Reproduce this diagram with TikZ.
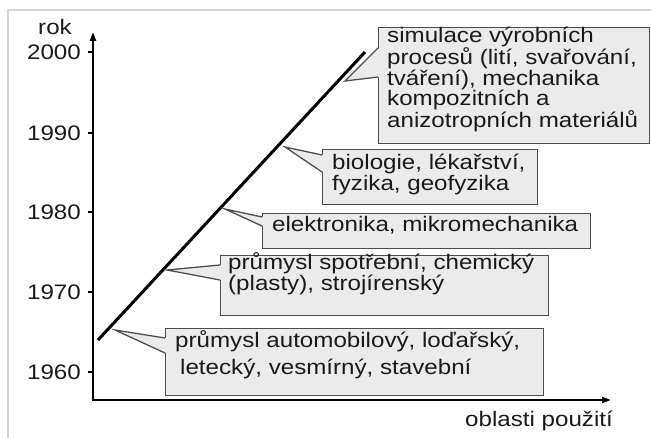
\documentclass[tikz,border=0pt]{standalone}
\usepackage{fontspec}
\setmainfont{Liberation Sans}[FakeStretch=1.15]
\usetikzlibrary{arrows.meta,calc}
\definecolor{boxgray}{HTML}{EBEBEB}
\definecolor{edgegray}{HTML}{4D4D4D}
\definecolor{framegray}{HTML}{D4D4D4}
\definecolor{ink}{HTML}{1A1A1A}

\begin{document}
\begin{tikzpicture}[x=1pt,y=-1pt,
  axis/.style={line width=2.6pt, black, -{Triangle[length=9pt,width=6pt]}},
  tick/.style={line width=1.6pt, black},
  lbl/.style={font=\fontsize{21}{21}\selectfont, text=ink, inner sep=0pt},
  box/.style={draw=edgegray, fill=boxgray, line width=1.3pt, inner sep=0pt, anchor=north west},
  txt/.style={lbl, align=left, anchor=base west},
  wedgeline/.style={draw=edgegray, line width=1.3pt, line join=miter}
]
\useasboundingbox (0,0) rectangle (651,438);

% light frame
\draw[framegray, line width=2pt] (8,438) -- (8,10) -- (651,10);

% axes
\coordinate (o) at (93,401);
\coordinate (ytop) at (93,32);
\coordinate (xend) at (611,400);
\draw[axis] (o) -- (ytop);
\draw[axis] (93,400) -- (xend);
\node[lbl, anchor=base] (rok) at (55,35) {rok};
\node[lbl, anchor=base west] (oblast) at (465,427) {oblasti použití};

% year ticks
\foreach \yr/\py in {2000/52,1990/133,1980/212,1970/292,1960/372}{
  \draw[tick] (88,\py) -- (93,\py);
  \node[lbl, anchor=east] (y\yr) at (81,\py) {\yr};
}

% growth line
\coordinate (ls) at (98,340);
\coordinate (le) at (365,52);
\draw[line width=3pt, black] (ls) -- (le);

% callout boxes
\node[box, minimum width=271pt, minimum height=116pt] (b1) at (378,27) {};
\node[box, minimum width=215pt, minimum height=55pt]  (b2) at (322,149) {};
\node[box, minimum width=328pt, minimum height=35pt]  (b3) at (262,213) {};
\node[box, minimum width=328pt, minimum height=60pt]  (b4) at (220,255) {};
\node[box, minimum width=378pt, minimum height=67pt]  (b5) at (165,328) {};

% pointer tips near the line
\coordinate (w1) at (345,81);
\coordinate (w2) at (285,147);
\coordinate (w3) at (225,209);
\coordinate (w4) at (167,270);
\coordinate (w5) at (115,330);

% wedges: fill over the box edge, then draw the two sides
\foreach \b/\w/\ya/\yb in {b1/w1/21/50, b2/w2/6/23, b3/w3/4/13, b4/w4/10/25, b5/w5/10/25}{
  \fill[boxgray] ($(\b.north west)+(1.2,\ya)$) -- (\w) -- ($(\b.north west)+(1.2,\yb)$) -- cycle;
  \draw[wedgeline] ($(\b.north west)+(0,\ya)$) -- (\w) -- ($(\b.north west)+(0,\yb)$);
}

% texts (anchored at the baseline of their last line)
\node[txt, font=\fontsize{21}{20.7}\selectfont] (t1) at (387,128)
  {simulace výrobních\\procesů (lití, svařování,\\tváření), mechanika\\kompozitních a\\anizotropních materiálů};
\node[txt, font=\fontsize{21}{21}\selectfont] (t2) at (332,191)
  {biologie, lékařství,\\fyzika, geofyzika};
\node[txt] (t3) at (272,232) {elektronika, mikromechanika};
\node[txt, font=\fontsize{21}{15.5}\selectfont] (t4) at (228,290.5)
  {průmysl spotřební, chemický\\(plasty), strojírenský};
\node[txt, font=\fontsize{21}{27}\selectfont] (t5) at (175,375)
  {průmysl automobilový, loďařský,\\\hspace*{5pt}letecký, vesmírný, stavební};
\end{tikzpicture}
\end{document}
